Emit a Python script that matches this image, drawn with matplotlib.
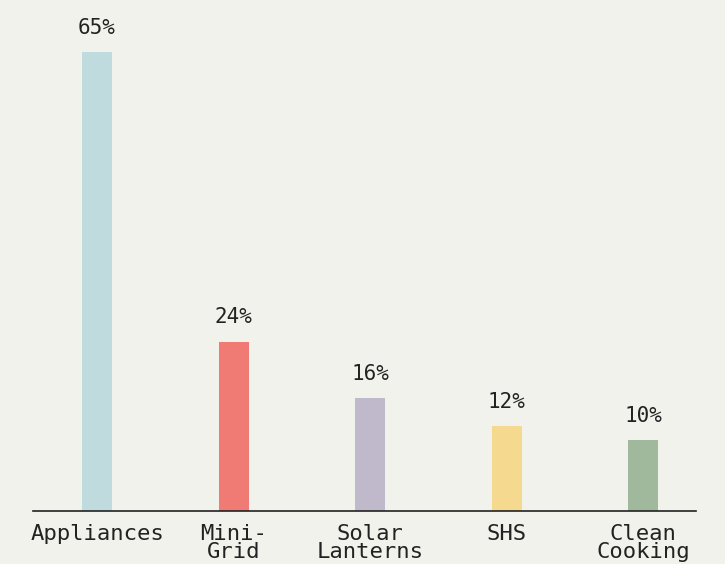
import matplotlib.pyplot as plt
import numpy as np

categories = ["Appliances", "Mini-\nGrid", "Solar\nLanterns", "SHS", "Clean\nCooking"]
values = [65, 24, 16, 12, 10]
colors = ["#bfdbdd", "#f07b74", "#bfb9cb", "#f5d98f", "#a0b99d"]

bg = "#f2f2ec"
ink = "#222222"
mono = "DejaVu Sans Mono"

fig = plt.figure(figsize=(7.25, 5.64), dpi=100, facecolor=bg)
ax = fig.add_axes([33 / 725, 53 / 564, 663 / 725, 508 / 564])
ax.set_facecolor(bg)

x = np.arange(len(categories))
bars = ax.bar(x, values, width=0.22, color=colors)

for b, v in zip(bars, values):
    ax.annotate(f"{v}%", (b.get_x() + b.get_width() / 2, v),
                xytext=(0, 10.5), textcoords="offset points",
                ha="center", va="bottom", fontsize=15, color=ink,
                family=mono)

ax.set_xlim(-0.469, 4.388)
ax.set_ylim(0, 72)
ax.set_xticks(x)
ax.set_xticklabels(categories, family=mono, fontsize=16,
                   color=ink, linespacing=0.9)
ax.tick_params(axis="x", length=0, pad=9)
ax.set_yticks([])
for s in ["top", "right", "left"]:
    ax.spines[s].set_visible(False)
ax.spines["bottom"].set_color(ink)
ax.spines["bottom"].set_linewidth(1.2)

fig.savefig("out.png", dpi=100, facecolor=bg)
